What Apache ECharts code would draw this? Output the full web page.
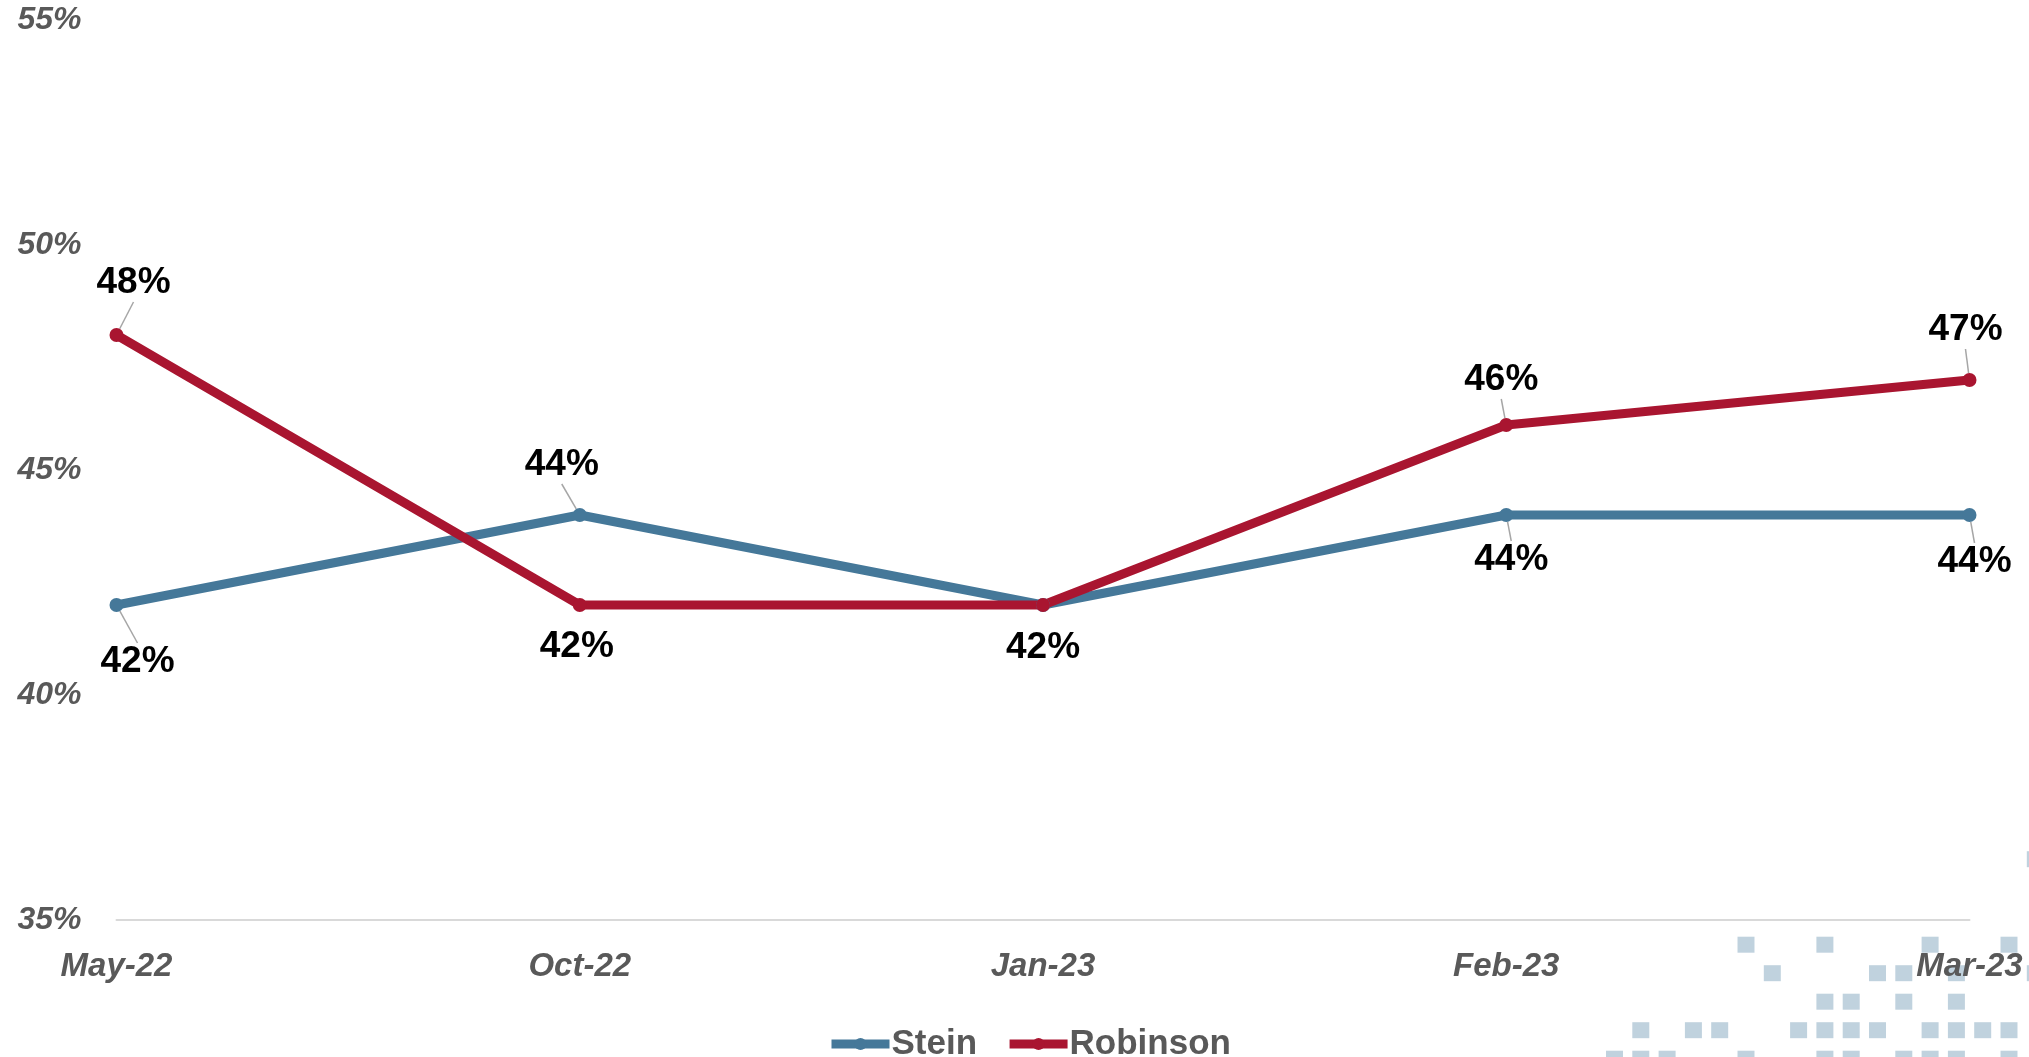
<!DOCTYPE html>
<html>
<head>
<meta charset="utf-8">
<script src="https://cdn.jsdelivr.net/npm/echarts@6/dist/echarts.min.js"></script>
<style>
  html, body { margin: 0; padding: 0; background: #fff; }
  #chart { width: 2029px; height: 1057px; }
</style>
</head>
<body>
<div id="chart"></div>
<script>
  // 数据
  const months = ['May-22', 'Oct-22', 'Jan-23', 'Feb-23', 'Mar-23'];
  const stein = [42, 44, 42, 44, 44];
  const robinson = [48, 42, 42, 46, 47];
  const yTicks = [35, 40, 45, 50, 55];

  // label offsets (dx, dy) from the point, per series
  const steinOffsets = [[21, 57], [-18, -50], [0, 43], [5, 45], [5, 47]];
  const robinsonOffsets = [[17, -52], [-3, 42], [0, 43], [-5, -45], [-4, -50]];

  // background square pattern, bottom right [col, row]
  const cells = [
    [16, -3],
    [5, 0], [8, 0], [12, 0], [15, 0],
    [6, 1], [10, 1], [11, 1], [13, 1], [16, 1],
    [8, 2], [9, 2], [11, 2], [13, 2],
    [1, 3], [3, 3], [4, 3], [7, 3], [8, 3], [9, 3], [10, 3], [12, 3], [13, 3], [14, 3], [15, 3],
    [0, 4], [1, 4], [2, 4], [5, 4], [8, 4], [9, 4], [11, 4], [12, 4], [13, 4], [15, 4]
  ];

  const FONT = "'Liberation Sans', Arial, sans-serif";
  const chart = echarts.init(document.getElementById('chart'));

  const graphics = cells.map(c => ({
    type: 'rect',
    z: -10,
    silent: true,
    shape: {x: 1606 + 26.3 * c[0], y: 936.7 + 28.5 * c[1], width: 17, height: 16},
    style: {fill: '#c0d2de'}
  }));

  function labelStyle() {
    return {
      show: true,
      position: 'inside',
      formatter: '{c}%',
      color: '#000',
      fontFamily: FONT,
      fontWeight: 'bold',
      fontSize: 37,
      lineHeight: 38
    };
  }

  const option = {
    animation: false,
    backgroundColor: '#fff',
    graphic: graphics,
    grid: {left: 116.5, right: 59.5, top: 20, bottom: 137},
    legend: {
      left: 822,
      top: 1021,
      itemWidth: 58,
      itemHeight: 15,
      itemGap: 28,
      lineStyle: {width: 9},
      textStyle: {color: '#595959', fontFamily: FONT, fontWeight: 'bold', fontSize: 35, lineHeight: 36, padding: [0, 0, 0, -3]},
      data: ['Stein', 'Robinson']
    },
    xAxis: {
      type: 'category',
      boundaryGap: false,
      data: months,
      axisLine: {lineStyle: {color: '#d9d9d9', width: 2}},
      axisTick: {show: false},
      axisLabel: {
        color: '#595959', fontFamily: FONT, fontWeight: 'bold', fontStyle: 'italic',
        fontSize: 33, margin: 30
      }
    },
    yAxis: {
      type: 'value',
      min: yTicks[0],
      max: yTicks[yTicks.length - 1],
      interval: 5,
      splitLine: {show: false},
      axisLine: {show: false},
      axisTick: {show: false},
      axisLabel: {
        color: '#595959', fontFamily: FONT, fontWeight: 'bold', fontStyle: 'italic',
        fontSize: 32, margin: 35, formatter: '{value}%'
      }
    },
    series: [
      {
        name: 'Stein',
        type: 'line',
        symbol: 'circle',
        symbolSize: 14,
        color: '#457899',
        lineStyle: {width: 9, color: '#457899'},
        label: labelStyle(),
        labelLine: {show: true, lineStyle: {color: '#a6a6a6', width: 1.5}},
        labelLayout: p => ({dx: steinOffsets[p.dataIndex][0], dy: steinOffsets[p.dataIndex][1]}),
        data: stein.map((v, i) => i === 2 ? {value: v, label: {show: false}} : v)
      },
      {
        name: 'Robinson',
        type: 'line',
        symbol: 'circle',
        symbolSize: 14,
        color: '#a91530',
        lineStyle: {width: 9, color: '#a91530'},
        label: labelStyle(),
        labelLine: {show: true, lineStyle: {color: '#a6a6a6', width: 1.5}},
        labelLayout: p => ({dx: robinsonOffsets[p.dataIndex][0], dy: robinsonOffsets[p.dataIndex][1]}),
        data: robinson.map((v, i) => (i === 1 || i === 2) ? {value: v, labelLine: {show: false}} : v)
      }
    ]
  };

  chart.setOption(option);
  window.addEventListener('resize', function () {
    chart.resize();
  });
</script>
</body>
</html>
